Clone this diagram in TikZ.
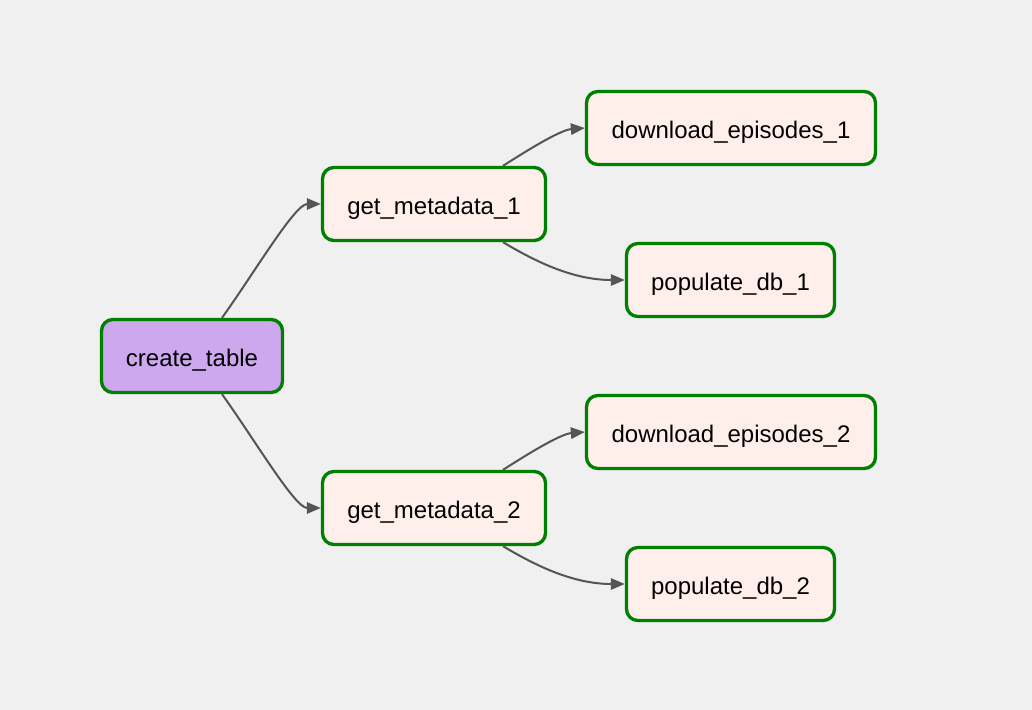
\documentclass[tikz,border=0pt]{standalone}
\usepackage{fontspec}
\setmainfont{Liberation Sans}
\usetikzlibrary{arrows.meta}
\definecolor{bggray}{HTML}{F0F0F0}
\definecolor{taskgreen}{HTML}{008000}
\definecolor{taskfill}{HTML}{FFEFEB}
\definecolor{ctfill}{HTML}{CDA8EE}
\definecolor{edgegray}{HTML}{555555}
\tikzset{
  task/.style={rectangle, rounded corners=8.5pt, draw=taskgreen, line width=2.5pt,
    fill=taskfill, inner sep=0pt, minimum height=54.75pt,
    text height=16pt, text depth=0pt,
    font=\fontsize{18}{22}\selectfont, text=black},
  edge/.style={draw=edgegray, line width=1.5pt,
    -{Triangle[length=10.5pt,width=8.5pt]}}
}
\begin{document}
\begin{tikzpicture}[x=0.75pt,y=-0.75pt]
\fill[bggray] (0,0) rectangle (1032,710);
\useasboundingbox (0,0) rectangle (1032,710);
\node[task, fill=ctfill, minimum width=135.75pt] (ct) at (192,356) {create\_table};
\node[task, minimum width=167.25pt] (gm1) at (434,204) {get\_metadata\_1};
\node[task, minimum width=167.25pt] (gm2) at (434,508) {get\_metadata\_2};
\node[task, minimum width=216.75pt] (de1) at (731,128) {download\_episodes\_1};
\node[task, minimum width=216.75pt] (de2) at (731,432) {download\_episodes\_2};
\node[task, minimum width=156pt] (pd1) at (730.5,280) {populate\_db\_1};
\node[task, minimum width=156pt] (pd2) at (730.5,584) {populate\_db\_2};
\draw[edge] ([xshift=22.5pt]ct.north) .. controls +(33,-46) and +(-26,0) .. (gm1.west);
\draw[edge] ([xshift=22.5pt]ct.south) .. controls +(33,46) and +(-26,0) .. (gm2.west);
\draw[edge] ([xshift=51.75pt]gm1.north) .. controls +(22,-14) and +(-25,2) .. (de1.west);
\draw[edge] ([xshift=51.75pt]gm1.south) .. controls +(27,16) and +(-55,0) .. (pd1.west);
\draw[edge] ([xshift=51.75pt]gm2.north) .. controls +(22,-14) and +(-25,2) .. (de2.west);
\draw[edge] ([xshift=51.75pt]gm2.south) .. controls +(27,16) and +(-55,0) .. (pd2.west);
\end{tikzpicture}
\end{document}
